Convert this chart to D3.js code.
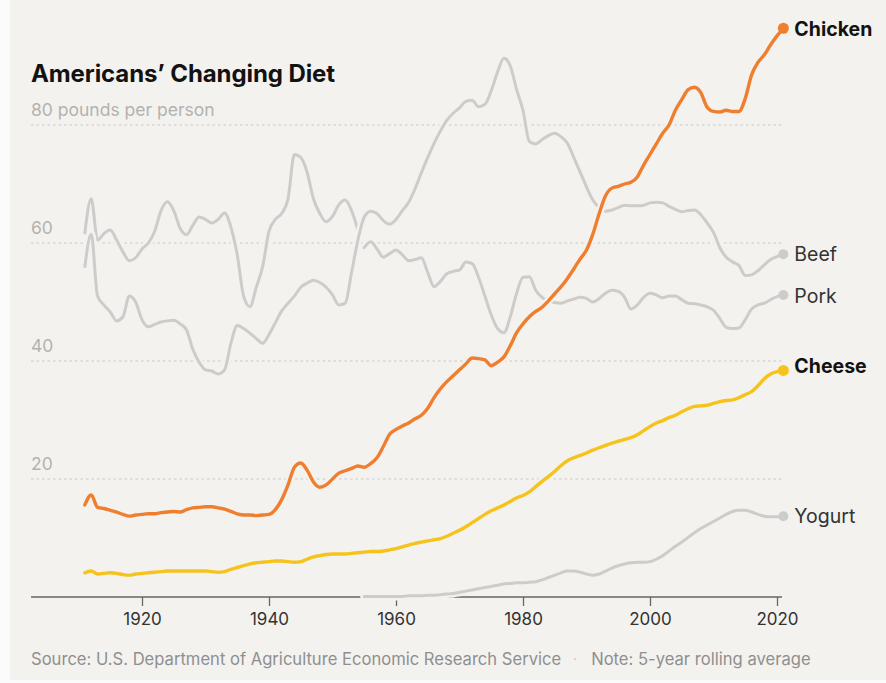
<!DOCTYPE html>
<html>
<head>
<meta charset="utf-8">
<script src="https://cdn.jsdelivr.net/npm/d3@7"></script>
<style>
  html, body { margin: 0; padding: 0; background: #fbfbfb; }
  svg { display: block; }
  text { font-family: Inter, Roboto, "Liberation Sans", sans-serif; }
</style>
</head>
<body>
<svg id="chart" width="886" height="683"></svg>
<script>
// Per-capita consumption, pounds per person, 5-year rolling average
const firstYear = 1911;
const chicken = [
  15.6, 17.3, 15.2, 15.0, 14.7, 14.4, 14.0, 13.7, 13.9, 14.0,
  14.1, 14.1, 14.3, 14.4, 14.5, 14.4, 14.8, 15.1, 15.2, 15.3,
  15.3, 15.1, 14.9, 14.5, 14.1, 13.9, 13.9, 13.8, 13.9, 14.0,
  14.8, 16.5, 19.0, 22.0, 22.7, 21.5, 19.5, 18.6, 19.0, 20.0,
  21.0, 21.4, 21.8, 22.2, 22.0, 22.6, 23.6, 25.5, 27.6, 28.4,
  29.0, 29.5, 30.2, 30.8, 32.0, 33.8, 35.3, 36.5, 37.5, 38.5,
  39.5, 40.5, 40.4, 40.2, 39.2, 39.8, 40.7, 42.6, 44.8, 46.3,
  47.5, 48.4, 49.1, 50.2, 51.4, 52.6, 54.0, 55.6, 57.3, 58.8,
  61.5, 65.0, 68.0, 69.3, 69.6, 70.0, 70.3, 71.2, 73.2, 75.0,
  76.8, 78.6, 80.0, 82.5, 84.3, 86.0, 86.4, 85.5, 83.0, 82.3,
  82.2, 82.5, 82.3, 82.3, 84.5, 88.5, 90.6, 91.9, 93.6, 95.1,
  96.4
];
const cheese = [
  4.1, 4.4, 3.9, 4.0, 4.1, 4.0, 3.8, 3.7, 3.9, 4.0,
  4.1, 4.2, 4.3, 4.4, 4.4, 4.4, 4.4, 4.4, 4.4, 4.4,
  4.3, 4.2, 4.3, 4.7, 5.0, 5.3, 5.6, 5.8, 5.9, 6.0,
  6.1, 6.1, 6.0, 5.9, 6.0, 6.4, 6.8, 7.0, 7.2, 7.3,
  7.3, 7.3, 7.4, 7.5, 7.6, 7.7, 7.7, 7.8, 8.0, 8.2,
  8.5, 8.8, 9.1, 9.3, 9.5, 9.7, 9.9, 10.3, 10.8, 11.3,
  11.9, 12.6, 13.3, 14.0, 14.6, 15.1, 15.6, 16.2, 16.8, 17.2,
  17.8, 18.7, 19.6, 20.4, 21.3, 22.3, 23.1, 23.6, 24.0, 24.4,
  24.9, 25.3, 25.7, 26.1, 26.4, 26.7, 27.0, 27.5, 28.2, 28.9,
  29.5, 29.9, 30.4, 30.8, 31.4, 31.9, 32.3, 32.4, 32.5, 32.8,
  33.1, 33.3, 33.4, 33.8, 34.3, 34.8, 35.8, 37.0, 37.8, 38.2,
  38.4
];
const beef = [
  56.0, 61.5, 51.0, 49.5, 48.3, 46.8, 47.5, 51.0, 50.0, 47.0,
  45.8, 46.2, 46.6, 46.8, 46.9, 46.3, 45.3, 42.0, 39.8, 38.5,
  38.3, 37.8, 38.5, 43.0, 46.0, 45.5, 44.7, 43.8, 43.0, 44.5,
  46.5, 48.5, 49.8, 51.0, 52.5, 53.2, 53.7, 53.3, 52.5, 51.2,
  49.5, 49.8, 55.0, 60.5, 64.4, 65.4, 65.0, 63.8, 63.2, 64.0,
  65.5, 66.9, 69.2, 71.9, 74.5, 76.9, 79.0, 80.8, 82.0, 82.9,
  84.0, 84.2, 83.1, 83.5, 85.8, 89.0, 91.3, 90.0, 86.0, 82.5,
  77.2, 76.8, 77.5, 78.2, 78.6, 78.0, 76.9, 74.5, 72.0, 69.5,
  67.3, 66.0, 65.4, 65.6, 66.0, 66.4, 66.3, 66.3, 66.4, 66.8,
  66.9, 66.8, 66.2, 65.7, 65.3, 65.5, 65.6, 64.8, 63.4, 61.8,
  59.2, 57.6, 56.8, 56.2, 54.5, 54.6, 55.3, 56.3, 57.2, 57.7,
  58.1
];
// Pork is reported in two series that do not join: 1911–1954 and 1955–2021
const porkEarly = [
  61.7, 67.5, 60.5, 61.6, 62.2, 60.5, 58.5, 57.0, 57.5, 59.0,
  60.0, 62.0, 65.5, 67.0, 65.5, 62.5, 61.4, 63.0, 64.4, 64.0,
  63.4, 64.0, 65.1, 62.7, 58.0, 51.0, 49.2, 52.5, 56.0, 62.0,
  64.0, 65.0, 67.5, 75.0, 74.5, 72.0, 67.5, 65.0, 63.6, 64.5,
  66.5, 67.3, 65.5, 62.2
];
const porkLateStart = 1955;
const porkLate = [
  59.2, 60.2, 59.0, 57.6, 58.2, 58.8, 58.0, 57.0, 57.2, 57.5,
  55.0, 52.6, 53.5, 54.8, 55.2, 55.4, 56.8, 56.5, 54.2, 51.0,
  47.8, 45.5, 44.8, 47.5, 51.5, 54.2, 54.3, 52.0, 50.8, 50.2,
  49.9, 49.8, 50.2, 50.5, 50.8, 50.6, 50.0, 50.6, 51.5, 52.0,
  51.8, 50.8, 48.8, 49.5, 50.8, 51.5, 51.2, 50.7, 51.0, 51.0,
  50.4, 49.8, 49.7, 49.5, 49.2, 48.6, 47.2, 45.7, 45.5, 45.6,
  47.0, 48.8, 49.5, 49.8, 50.4, 50.9, 51.2
];
const yogurtStart = 1955;
const yogurt = [
  0.1, 0.1, 0.1, 0.1, 0.1, 0.1, 0.1, 0.2, 0.2, 0.2,
  0.3, 0.3, 0.4, 0.5, 0.6, 0.8, 1.0, 1.2, 1.4, 1.6,
  1.8, 2.0, 2.2, 2.3, 2.4, 2.4, 2.5, 2.6, 2.9, 3.3,
  3.7, 4.1, 4.4, 4.4, 4.2, 3.9, 3.7, 3.9, 4.4, 4.9,
  5.3, 5.6, 5.8, 5.9, 5.9, 6.0, 6.4, 7.0, 7.8, 8.6,
  9.3, 10.1, 10.9, 11.6, 12.2, 12.8, 13.4, 14.0, 14.5, 14.7,
  14.7, 14.4, 14.0, 13.7, 13.6, 13.6, 13.7
];

const yTicks = [20, 40, 60, 80];
const yTickLabels = ["20", "40", "60", "80 pounds per person"];
const xTicks = [1920, 1940, 1960, 1980, 2000, 2020];

const title = "Americans’ Changing Diet";
const sourceText = "Source: U.S. Department of Agriculture Economic Research Service";
const noteText = "Note: 5-year rolling average";

const toPoints = (start, values) => values.map((v, i) => ({ year: start + i, value: v }));

const series = [
  { name: "Yogurt", parts: [toPoints(yogurtStart, yogurt)], color: "#cdcccb", bold: false, nudge: 0 },
  { name: "Pork", parts: [toPoints(firstYear, porkEarly), toPoints(porkLateStart, porkLate)], color: "#cdcccb", bold: false, nudge: 1 },
  { name: "Beef", parts: [toPoints(firstYear, beef)], color: "#cdcccb", bold: false, nudge: 0 },
  { name: "Cheese", parts: [toPoints(firstYear, cheese)], color: "#f6c31c", bold: true, nudge: -4 },
  { name: "Chicken", parts: [toPoints(firstYear, chicken)], color: "#ef7e2e", bold: true, nudge: 1 }
];

const W = 886, H = 683;
const bg = "#f3f2ef";
const left = 31, right = 782;
const font = "Inter, Roboto, 'Liberation Sans', sans-serif";

const svg = d3.select("#chart");
svg.append("rect").attr("x", 10).attr("y", 0).attr("width", W - 10).attr("height", 680).attr("fill", bg);

const x = d3.scaleLinear().domain([1920, 2020]).range([142, 777]);
const y = d3.scaleLinear().domain([0, 80]).range([597, 125]);

// title
svg.append("text")
  .attr("x", left).attr("y", 82)
  .attr("font-size", 24).attr("font-weight", 700).attr("fill", "#121212")
  .attr("letter-spacing", "-0.1")
  .text(title);

// dashed gridlines and their labels
const grid = svg.append("g");
grid.selectAll("line").data(yTicks).join("line")
  .attr("x1", left).attr("x2", right)
  .attr("y1", d => y(d)).attr("y2", d => y(d))
  .attr("stroke", "#c9c8c6").attr("stroke-width", 1.2)
  .attr("stroke-dasharray", "2.5,3");
grid.selectAll("text").data(yTicks).join("text")
  .attr("x", left).attr("y", d => y(d) - 9)
  .attr("font-size", 17.5).attr("fill", "#b3b2b0")
  .text((d, i) => yTickLabels[i]);

// x axis
const xAxis = d3.axisBottom(x).tickValues(xTicks).tickFormat(d3.format("d"))
  .tickSize(9).tickPadding(7).tickSizeOuter(0);
const ax = svg.append("g").attr("transform", `translate(0,${y(0)})`).call(xAxis);
ax.select(".domain").remove();
ax.selectAll(".tick line").attr("stroke", "#666").attr("stroke-width", 1.3);
ax.selectAll(".tick text").attr("font-size", 17).attr("fill", "#333").attr("font-family", font);
ax.append("line").attr("x1", left).attr("x2", right).attr("y1", 0).attr("y2", 0)
  .attr("stroke", "#666").attr("stroke-width", 1.5);

// lines, each with a halo in the background colour
const line = d3.line().x(d => x(d.year)).y(d => y(d.value)).curve(d3.curveMonotoneX);
const lines = svg.append("g").attr("fill", "none").attr("stroke-linejoin", "round").attr("stroke-linecap", "round");
series.forEach(s => {
  s.parts.forEach(p => {
    lines.append("path").attr("d", line(p)).attr("stroke", bg).attr("stroke-width", 8);
  });
  s.parts.forEach(p => {
    lines.append("path").attr("d", line(p)).attr("stroke", s.color).attr("stroke-width", s.bold ? 3.4 : 3);
  });
});

// end dots and labels
const ends = series.map(s => {
  const last = s.parts[s.parts.length - 1];
  return { s, p: last[last.length - 1] };
});
svg.selectAll("circle.end").data(ends).join("circle")
  .attr("class", "end")
  .attr("cx", d => x(d.p.year)).attr("cy", d => y(d.p.value))
  .attr("r", d => d.s.bold ? 5.5 : 5)
  .attr("fill", d => d.s.color);
svg.selectAll("text.lab").data(ends).join("text")
  .attr("class", "lab")
  .attr("x", d => x(d.p.year) + 11).attr("y", d => y(d.p.value) + d.s.nudge)
  .attr("dy", "0.35em")
  .attr("font-size", 19.5)
  .attr("font-weight", d => d.s.bold ? 700 : 400)
  .attr("fill", d => d.s.bold ? "#121212" : "#333")
  .text(d => d.s.name);

// footer
const src = svg.append("text").attr("x", left).attr("y", 665)
  .attr("font-size", 16.6).attr("fill", "#8f8f8f").text(sourceText);
const srcEnd = left + src.node().getComputedTextLength();
svg.append("text").attr("x", srcEnd + 14).attr("y", 665).attr("text-anchor", "middle")
  .attr("font-size", 16).attr("fill", "#cfcfcf").text("·");
svg.append("text").attr("x", srcEnd + 30).attr("y", 665)
  .attr("font-size", 16.6).attr("fill", "#8f8f8f").text(noteText);
</script>
</body>
</html>
